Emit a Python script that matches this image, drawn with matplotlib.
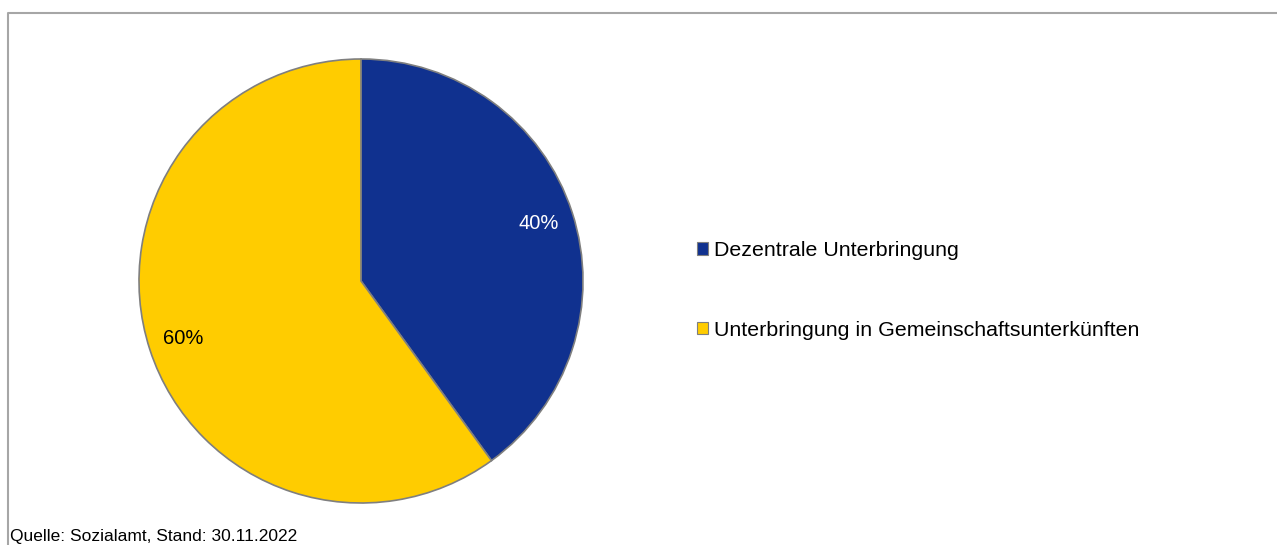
import matplotlib
matplotlib.use("Agg")
import matplotlib.pyplot as plt
from matplotlib.lines import Line2D

plt.rcParams['font.family'] = ['Liberation Sans', 'DejaVu Sans']

# data
labels = ["Dezentrale Unterbringung", "Unterbringung in Gemeinschaftsunterkünften"]
shares = [40, 60]
colors = ["#10318f", "#ffcc00"]
pct_colors = ["white", "black"]
source = "Quelle: Sozialamt, Stand: 30.11.2022"

W, H = 1277, 545
fig = plt.figure(figsize=(W / 100, H / 100), dpi=100)

# outer frame (only top and left visible)
fig.add_artist(Line2D([8 / W, 8 / W, 1.0], [0.0, 1 - 13 / H, 1 - 13 / H],
                      transform=fig.transFigure, color="#a6a6a6", lw=1.5))

# pie axes: centre (361, 281), radius 222 px
cx, cy, r = 361, 281, 222
ax = fig.add_axes([(cx - r) / W, (H - cy - r) / H, 2 * r / W, 2 * r / H])
wedges, texts, autotexts = ax.pie(
    shares, colors=colors, startangle=90, counterclock=False,
    autopct="%d%%", pctdistance=0.84,
    wedgeprops=dict(edgecolor="#7f7f7f", linewidth=1.2),
    textprops=dict(fontsize=14.5))
for t, c in zip(autotexts, pct_colors):
    t.set_color(c)
ax.set_xlim(-1, 1)
ax.set_ylim(-1, 1)

leg = fig.legend(wedges, labels, loc="upper left",
                 bbox_to_anchor=(697 / W, 1 - 241 / H),
                 frameon=False, fontsize=15.4, handlelength=0.5, handleheight=0.5,
                 handletextpad=0.3, labelspacing=2.85, borderaxespad=0, borderpad=0)
for h in leg.legend_handles:
    h.set_edgecolor("#7f7f7f")
    h.set_linewidth(0.8)

fig.text(10 / W, 1 - 537 / H, source, fontsize=12.5, va="center", ha="left")

fig.savefig("out.png", dpi=100, facecolor="white")
